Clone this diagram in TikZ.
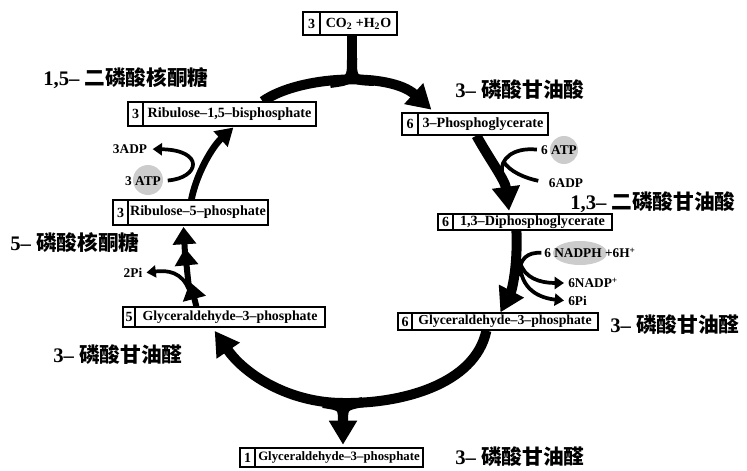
\documentclass[tikz,border=0pt]{standalone}
\usepackage{fontspec}
\setmainfont{Liberation Serif}
\newfontfamily\cjk{Noto Sans CJK SC}
\usetikzlibrary{arrows.meta}
\pgfdeclarelayer{bg}
\pgfsetlayers{bg,main}
\newcommand\pxu{0.75pt}
% name, left, divider, right, top, bottom, number, text, fontsize
\newcommand\cellbox[9]{%
  \node[numcell, minimum width={(#3-#2)*\pxu}, minimum height={(#6-#5)*\pxu}] (#1n) at ({(#2+#3)/2},{(#5+#6)/2}) {#7};
  \node[namecell, minimum width={(#4-#3)*\pxu}, minimum height={(#6-#5)*\pxu}, font=\bfseries\fontsize{#9}{#9}\selectfont] (#1) at ({(#3+#4)/2},{(#5+#6)/2}) {#8};
}
\begin{document}
\begin{tikzpicture}[x=0.75pt,y=-0.75pt,
  numcell/.style={draw, fill=white, line width=0.9pt, inner sep=0pt, font=\bfseries\fontsize{10.5}{12}\selectfont},
  namecell/.style={draw, fill=white, line width=0.9pt, inner sep=0pt},
  cyc/.style={line width=7.5pt},
  bigtip/.style={-{Triangle[length=18pt,width=20pt]}},
  medarrow/.style={line width=5pt,-{Triangle[length=13pt,width=15pt]}},
  stackarrow/.style={line width=4.5pt,-{Triangle[length=13pt,width=17pt]}},
  thinarrow/.style={line width=2.8pt,-{Triangle[length=7pt,width=9pt]}},
  thinline/.style={line width=2.8pt},
  lbl/.style={font=\bfseries\fontsize{10}{12}\selectfont, inner sep=0pt},
  cn/.style={font=\bfseries\fontsize{15.5}{18}\selectfont, inner sep=0pt, anchor=west},
  stip/.style={fill=gray!40}]
\useasboundingbox (0,0) rectangle (747,471);

% boxes
\cellbox{co2}{303}{320}{397}{12}{35}{3}{CO\textsubscript{2} +H\textsubscript{2}O}{10.5}
\cellbox{rubp}{128}{143}{316}{102}{126}{3}{Ribulose–1,5–bisphosphate}{10.6}
\cellbox{rfp}{113}{128}{268}{200}{225}{3}{Ribulose–5–phosphate}{10.6}
\cellbox{gfive}{123}{135}{325}{307}{327}{5}{Glyceraldehyde–3–phosphate}{10.4}
\cellbox{pga}{402}{418}{548}{113}{135}{6}{3–Phosphoglycerate}{10.6}
\cellbox{dpg}{438}{453}{612}{214}{230}{6}{1,3–Diphosphoglycerate}{10.6}
\cellbox{gsix}{398}{412}{598}{313}{330}{6}{Glyceraldehyde–3–phosphate}{10.3}
\cellbox{gone}{240}{255}{423}{448}{467}{1}{Glyceraldehyde–3–phosphate}{9.6}

% small labels
\node[lbl] (atp3) at (143,181) {3 ATP};
\node[lbl] (adp3) at (130,149) {3ADP};
\node[lbl] (atp6) at (559,150) {6 ATP};
\node[lbl] (adp6) at (566,183) {6ADP};
\node[lbl] (nadph) at (590,253) {6 NADPH +6H\textsuperscript{+}};
\node[lbl,anchor=west] (nadp) at (568,283) {6NADP\textsuperscript{+}};
\node[lbl,anchor=west] (pisix) at (568,301) {6Pi};
\node[lbl] (pitwo) at (133,273) {2Pi};

% Chinese labels
\node[cn] (l1) at (43,78) {1,5– {\cjk 二磷酸核酮糖}};
\node[cn] (l2) at (10,243) {5– {\cjk 磷酸核酮糖}};
\node[cn] (l3) at (53,355) {3– {\cjk 磷酸甘油醛}};
\node[cn] (l4) at (455,90) {3– {\cjk 磷酸甘油酸}};
\node[cn] (l5) at (570,202) {1,3– {\cjk 二磷酸甘油酸}};
\node[cn] (l6) at (610,325) {3– {\cjk 磷酸甘油醛}};
\node[cn] (l7) at (455,457) {3– {\cjk 磷酸甘油醛}};

\coordinate (jt) at (352,84);
\coordinate (jb) at (343,403);
\coordinate (katp) at (503,161);
\coordinate (knad) at (520,262);
\coordinate (kpi) at (189,290);
\coordinate (sa) at (190,282);
\coordinate (sb) at (185,248);

\begin{pgfonlayer}{bg}
\fill[white] (0,0) rectangle (747,471);
\fill[stip] (148,180) circle (15);
\fill[stip] (564,150) circle (14);
\fill[stip] (580,253) ellipse (27 and 12);

% top arc with CO2 input
\draw[cyc,bigtip,shorten >=3pt] ([xshift=-40.5pt]rubp.north east) .. controls (300,75) and (390,72) .. ([xshift=12.75pt]pga.north west);
\draw[cyc] (co2.south -| jt) -- (jt);
\draw[cyc] (352,58) .. controls (352,80) .. (374,81);
\draw[cyc] (352,58) .. controls (352,80) .. (330,83);

% right side
\draw[cyc,bigtip,shorten >=2pt] ([xshift=44.25pt]pga.south west) .. controls (490,160) and (505,180) .. ([xshift=42.75pt]dpg.north west);
\draw[cyc,bigtip] ([xshift=48pt]dpg.south west) .. controls (518,265) and (512,290) .. ([xshift=66.75pt]gsix.north west);

% bottom arc
\draw[cyc,bigtip,shorten >=3pt] ([xshift=56.25pt]gsix.south west) .. controls (475,385) and (400,404) .. (jb) .. controls (290,403) and (245,375) .. ([xshift=58.5pt]gfive.south west);
\draw[cyc,bigtip,shorten >=2pt] (jb) -- (gone.north -| jb);
\draw[cyc] (343,424) .. controls (343,406) .. (323,403);
\draw[cyc] (343,424) .. controls (343,406) .. (363,402);

% left stacked arrow
\draw[stackarrow] ([xshift=46.5pt]gfive.north west) -- (sa);
\draw[stackarrow] ([shift={(-1,6)}]sa) .. controls (187,270) .. (sb);
\draw[stackarrow,shorten >=1pt] ([yshift=-4pt]sb) -- ([xshift=42pt]rfp.south west);
\draw[thinarrow,shorten >=3pt] (kpi) .. controls (182,272) and (168,270) .. (pitwo.east);

% Ribulose-5-P -> RuBP
\draw[medarrow,shorten >=1pt] ([xshift=48pt]rfp.north west) .. controls (197,172) and (213,146) .. ([xshift=69pt]rubp.south west);
\draw[thinarrow,shorten <=5pt,shorten >=4pt] (atp3.east) .. controls (200,178) and (205,150) .. (adp3.east);

% ATP / ADP at right
\draw[thinline,shorten <=3pt] (atp6.west) .. controls (512,147) and (500,160) .. (502,172);
\draw[thinline,shorten >=8pt] (katp) .. controls (510,172) and (525,178) .. (adp6.west);

% NADPH
\draw[thinline,shorten <=2pt] (nadph.west) .. controls (528,252) and (519,258) .. (519,276);
\draw[thinarrow,shorten >=3pt] (knad) .. controls (524,278) and (540,283) .. (nadp.west);
\draw[thinarrow,shorten >=3pt] (knad) .. controls (520,290) and (540,298) .. (pisix.west);
\end{pgfonlayer}
\end{tikzpicture}
\end{document}
